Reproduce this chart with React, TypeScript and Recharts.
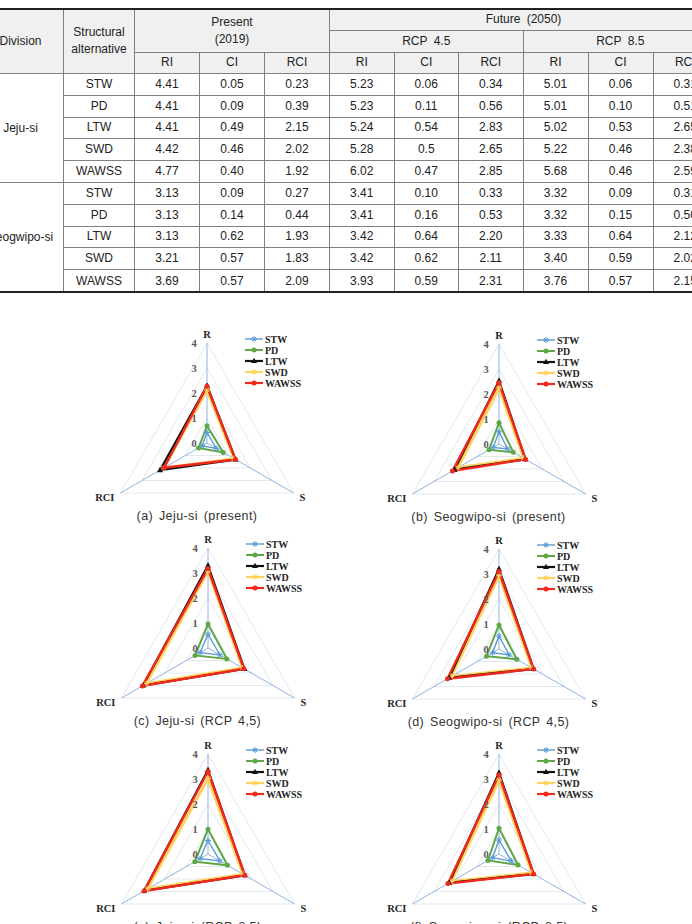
import React from 'react';
import { RadarChart, Radar, PolarGrid, PolarAngleAxis, PolarRadiusAxis } from 'recharts';

// ---- table values ----
const divisions = ['Jeju-si', 'Seogwipo-si'];
const alternatives = ['STW', 'PD', 'LTW', 'SWD', 'WAWSS'];
const indexLabels = ['RI', 'CI', 'RCI'];
const jejuRows = [
  ['4.41', '0.05', '0.23', '5.23', '0.06', '0.34', '5.01', '0.06', '0.31'],
  ['4.41', '0.09', '0.39', '5.23', '0.11', '0.56', '5.01', '0.10', '0.51'],
  ['4.41', '0.49', '2.15', '5.24', '0.54', '2.83', '5.02', '0.53', '2.65'],
  ['4.42', '0.46', '2.02', '5.28', '0.5', '2.65', '5.22', '0.46', '2.38'],
  ['4.77', '0.40', '1.92', '6.02', '0.47', '2.85', '5.68', '0.46', '2.59'],
];
const seogwipoRows = [
  ['3.13', '0.09', '0.27', '3.41', '0.10', '0.33', '3.32', '0.09', '0.31'],
  ['3.13', '0.14', '0.44', '3.41', '0.16', '0.53', '3.32', '0.15', '0.50'],
  ['3.13', '0.62', '1.93', '3.42', '0.64', '2.20', '3.33', '0.64', '2.12'],
  ['3.21', '0.57', '1.83', '3.42', '0.62', '2.11', '3.40', '0.59', '2.02'],
  ['3.69', '0.57', '2.09', '3.93', '0.59', '2.31', '3.76', '0.57', '2.15'],
];

// ---- radar values (order: STW, PD, LTW, SWD, WAWSS) ----
const radarAxes = ['R', 'S', 'RCI'];
const radiusTicks = [0, 1, 2, 3, 4];

const jejuPresentR = [0.42, 0.69, 2.29, 2.12, 2.27];
const jejuPresentS = [0.43, 0.75, 1.32, 1.25, 1.32];
const jejuPresentRCI = [0.23, 0.39, 2.17, 2.02, 1.98];

const seogwipoPresentR = [0.49, 0.85, 2.53, 2.25, 2.45];
const seogwipoPresentS = [0.4, 0.66, 1.22, 1.14, 1.23];
const seogwipoPresentRCI = [0.27, 0.46, 2.05, 1.9, 2.15];

const jejuRcp45R = [0.55, 0.96, 3.3, 3.08, 3.18];
const jejuRcp45S = [0.55, 0.87, 1.68, 1.6, 1.66];
const jejuRcp45RCI = [0.37, 0.6, 3.0, 2.85, 3.03];

const seogwipoRcp45R = [0.52, 0.96, 3.2, 2.95, 3.1];
const seogwipoRcp45S = [0.47, 0.82, 1.6, 1.52, 1.6];
const seogwipoRcp45RCI = [0.3, 0.58, 2.3, 2.2, 2.38];

const jejuRcp85R = [0.54, 0.99, 3.36, 3.02, 3.3];
const jejuRcp85S = [0.55, 0.9, 1.7, 1.62, 1.7];
const jejuRcp85RCI = [0.37, 0.61, 2.95, 2.8, 2.95];

const seogwipoRcp85R = [0.56, 1.03, 3.25, 2.96, 3.16];
const seogwipoRcp85S = [0.57, 0.88, 1.6, 1.52, 1.6];
const seogwipoRcp85RCI = [0.3, 0.51, 2.3, 2.2, 2.36];

// series styling
const seriesStyle: Record<string, { color: string; width: number; marker: string }> = {
  STW: { color: '#5B9BD5', width: 1.4, marker: 'star' },
  PD: { color: '#5FA646', width: 2, marker: 'circle' },
  LTW: { color: '#111111', width: 2.2, marker: 'triangle' },
  SWD: { color: '#FFD35C', width: 3, marker: 'star' },
  WAWSS: { color: '#F0281E', width: 2.4, marker: 'circle' },
};
const drawOrder = ['STW', 'PD', 'SWD', 'LTW', 'WAWSS'];

const serif = '"Liberation Serif", "Times New Roman", serif';
const sans = '"Liberation Sans", Arial, sans-serif';

const Marker = ({ kind, x, y, color }: any) => {
  if (kind === 'circle') return <circle cx={x} cy={y} r={2.5} fill={color} />;
  if (kind === 'triangle')
    return <polygon points={`${x},${y - 3.3} ${x + 3},${y + 2} ${x - 3},${y + 2}`} fill={color} />;
  if (kind === 'star')
    return (
      <g stroke={color} strokeWidth={1}>
        <line x1={x - 3} y1={y} x2={x + 3} y2={y} />
        <line x1={x} y1={y - 3} x2={x} y2={y + 3} />
        <line x1={x - 2.1} y1={y - 2.1} x2={x + 2.1} y2={y + 2.1} />
        <line x1={x - 2.1} y1={y + 2.1} x2={x + 2.1} y2={y - 2.1} />
      </g>
    );
  return null;
};

const AngleTick = ({ x, y, payload }: any) => {
  const v = payload.value;
  const anchor = v === 'R' ? 'middle' : v === 'S' ? 'start' : 'end';
  const dx = v === 'S' ? -1 : v === 'RCI' ? 1 : 0;
  const dy = v === 'R' ? -1 : 0;
  return (
    <text x={x + dx} y={y + dy} textAnchor={anchor} dominantBaseline="central"
      fontFamily={serif} fontWeight="bold" fontSize={10.5} fill="#262626">{v}</text>
  );
};

const RadiusTick = ({ x, y, payload }: any) => (
  <text x={x - 13} y={y} textAnchor="middle" dominantBaseline="central"
    fontFamily={serif} fontWeight="bold" fontSize={10.5} fill="#595959">{payload.value}</text>
);

const LegendBox = ({ left, top }: any) => (
  <svg style={{ position: 'absolute', left, top }} width={80} height={60}>
    {alternatives.map((a, i) => {
      const st = seriesStyle[a];
      const y = 6 + i * 11;
      return (
        <g key={a}>
          <line x1={2} y1={y} x2={20} y2={y} stroke={st.color} strokeWidth={Math.min(st.width, 2.2)} />
          <Marker kind={st.marker} x={11} y={y} color={st.color} />
          <text x={22} y={y} dominantBaseline="central" fontFamily={serif} fontWeight="bold"
            fontSize={10} fill="#262626">{a}</text>
        </g>
      );
    })}
  </svg>
);

const RadarPanel = ({ cx, cy, r, s, rci, caption }: any) => {
  const cols = [r, s, rci];
  const data = radarAxes.map((axis, i) => {
    const row: any = { axis };
    alternatives.forEach((a, j) => (row[a] = cols[i][j]));
    return row;
  });
  return (
    <>
      <div style={{ position: 'absolute', left: cx - 140, top: cy - 120 }}>
        <RadarChart width={280} height={200} cx={140} cy={120} outerRadius={100} data={data}
          margin={{ top: 0, right: 0, bottom: 0, left: 0 }}>
          <PolarGrid gridType="polygon" radialLines={false} stroke="#E4E8EE" />
          <PolarGrid gridType="polygon" polarRadius={[]} stroke="#8DB4E2" />
          <PolarAngleAxis dataKey="axis" axisLine={false} tickLine={false} tick={AngleTick} />
          <PolarRadiusAxis angle={90} domain={[radiusTicks[0], radiusTicks[radiusTicks.length - 1]]}
            tickCount={radiusTicks.length} axisLine={false} tickLine={false} tick={RadiusTick} />
          {drawOrder.map((a) => {
            const st = seriesStyle[a];
            return (
              <Radar key={a} dataKey={a} stroke={st.color} strokeWidth={st.width} fill="none"
                isAnimationActive={false}
                dot={(p: any) => <Marker key={`${a}-${p.index}`} kind={st.marker} x={p.cx} y={p.cy} color={st.color} />} />
            );
          })}
        </RadarChart>
      </div>
      <LegendBox left={cx + 36} top={cy - 110} />
      <div style={{
        position: 'absolute', left: cx - 160, width: 300, top: cy + 66, textAlign: 'center',
        fontFamily: sans, fontSize: 12.5, letterSpacing: 0.4, wordSpacing: 2, color: '#333',
      }}>{caption}</div>
    </>
  );
};

// ---- table ----
const colEdges = [-22, 64, 135, 200, 265, 330, 394.5, 459, 523.5, 588.5, 653.5, 718];
const headerY = [9.5, 31, 52.5, 74];
const rowH = 21.8;
const lineColor = '#808080';

const Cell = ({ x1, x2, y1, y2, bg, children, noBottom }: any) => (
  <div style={{
    position: 'absolute', left: x1, top: y1, width: x2 - x1, height: y2 - y1, boxSizing: 'border-box',
    borderRight: `1px solid ${lineColor}`, borderBottom: noBottom ? 'none' : `1px solid ${lineColor}`,
    background: bg || '#fff', display: 'flex', alignItems: 'center', justifyContent: 'center',
    textAlign: 'center', fontFamily: sans, fontSize: 12, color: '#222', lineHeight: '17px',
    wordSpacing: 3,
  }}>{children}</div>
);

const Table = () => {
  const hb = '#F0F0F0';
  const cells: any[] = [];
  cells.push(<Cell key="div" x1={colEdges[0]} x2={colEdges[1]} y1={headerY[0]} y2={headerY[3]} bg={hb}>Division</Cell>);
  cells.push(<Cell key="alt" x1={colEdges[1]} x2={colEdges[2]} y1={headerY[0]} y2={headerY[3]} bg={hb}>Structural<br />alternative</Cell>);
  cells.push(<Cell key="pre" x1={colEdges[2]} x2={colEdges[5]} y1={headerY[0]} y2={headerY[2]} bg={hb}>Present<br />(2019)</Cell>);
  cells.push(<Cell key="fut" x1={colEdges[5]} x2={colEdges[11]} y1={headerY[0]} y2={headerY[1]} bg={hb}>Future (2050)</Cell>);
  cells.push(<Cell key="r45" x1={colEdges[5]} x2={colEdges[8]} y1={headerY[1]} y2={headerY[2]} bg={hb}>RCP 4.5</Cell>);
  cells.push(<Cell key="r85" x1={colEdges[8]} x2={colEdges[11]} y1={headerY[1]} y2={headerY[2]} bg={hb}>RCP 8.5</Cell>);
  for (let c = 0; c < 9; c++) {
    cells.push(<Cell key={`h${c}`} x1={colEdges[2 + c]} x2={colEdges[3 + c]} y1={headerY[2]} y2={headerY[3]} bg={hb}>{indexLabels[c % 3]}</Cell>);
  }
  [jejuRows, seogwipoRows].forEach((rows, g) => {
    const gy = headerY[3] + g * 5 * rowH;
    cells.push(<Cell key={`g${g}`} x1={colEdges[0]} x2={colEdges[1]} y1={gy} y2={gy + 5 * rowH} noBottom={g === 1}>{divisions[g]}</Cell>);
    rows.forEach((row, i) => {
      const y1 = gy + i * rowH;
      const last = g === 1 && i === 4;
      cells.push(<Cell key={`a${g}${i}`} x1={colEdges[1]} x2={colEdges[2]} y1={y1} y2={y1 + rowH} noBottom={last}>{alternatives[i]}</Cell>);
      row.forEach((v, c) => {
        cells.push(<Cell key={`v${g}${i}${c}`} x1={colEdges[2 + c]} x2={colEdges[3 + c]} y1={y1} y2={y1 + rowH} noBottom={last}>{v}</Cell>);
      });
    });
  });
  const bottom = headerY[3] + 10 * rowH;
  return (
    <>
      {cells}
      <div style={{ position: 'absolute', left: 0, top: headerY[0] - 2, width: 692, height: 2, background: '#222' }} />
      <div style={{ position: 'absolute', left: 0, top: bottom - 1, width: 692, height: 2, background: '#222' }} />
    </>
  );
};

export default function App() {
  return (
    <div style={{ position: 'absolute', left: 0, top: 0, width: 692, height: 924, overflow: 'hidden', background: '#fff' }}>
      <Table />
      <RadarPanel cx={207} cy={442.5} r={jejuPresentR} s={jejuPresentS} rci={jejuPresentRCI} caption="(a) Jeju-si (present)" />
      <RadarPanel cx={498.5} cy={444} r={seogwipoPresentR} s={seogwipoPresentS} rci={seogwipoPresentRCI} caption="(b) Seogwipo-si (present)" />
      <RadarPanel cx={207.5} cy={648} r={jejuRcp45R} s={jejuRcp45S} rci={jejuRcp45RCI} caption="(c) Jeju-si (RCP 4,5)" />
      <RadarPanel cx={498.5} cy={648.5} r={seogwipoRcp45R} s={seogwipoRcp45S} rci={seogwipoRcp45RCI} caption="(d) Seogwipo-si (RCP 4,5)" />
      <RadarPanel cx={207.5} cy={854} r={jejuRcp85R} s={jejuRcp85S} rci={jejuRcp85RCI} caption="(e) Jeju-si (RCP 8,5)" />
      <RadarPanel cx={499} cy={854} r={seogwipoRcp85R} s={seogwipoRcp85S} rci={seogwipoRcp85RCI} caption="(f) Seogwipo-si (RCP 8,5)" />
    </div>
  );
}
